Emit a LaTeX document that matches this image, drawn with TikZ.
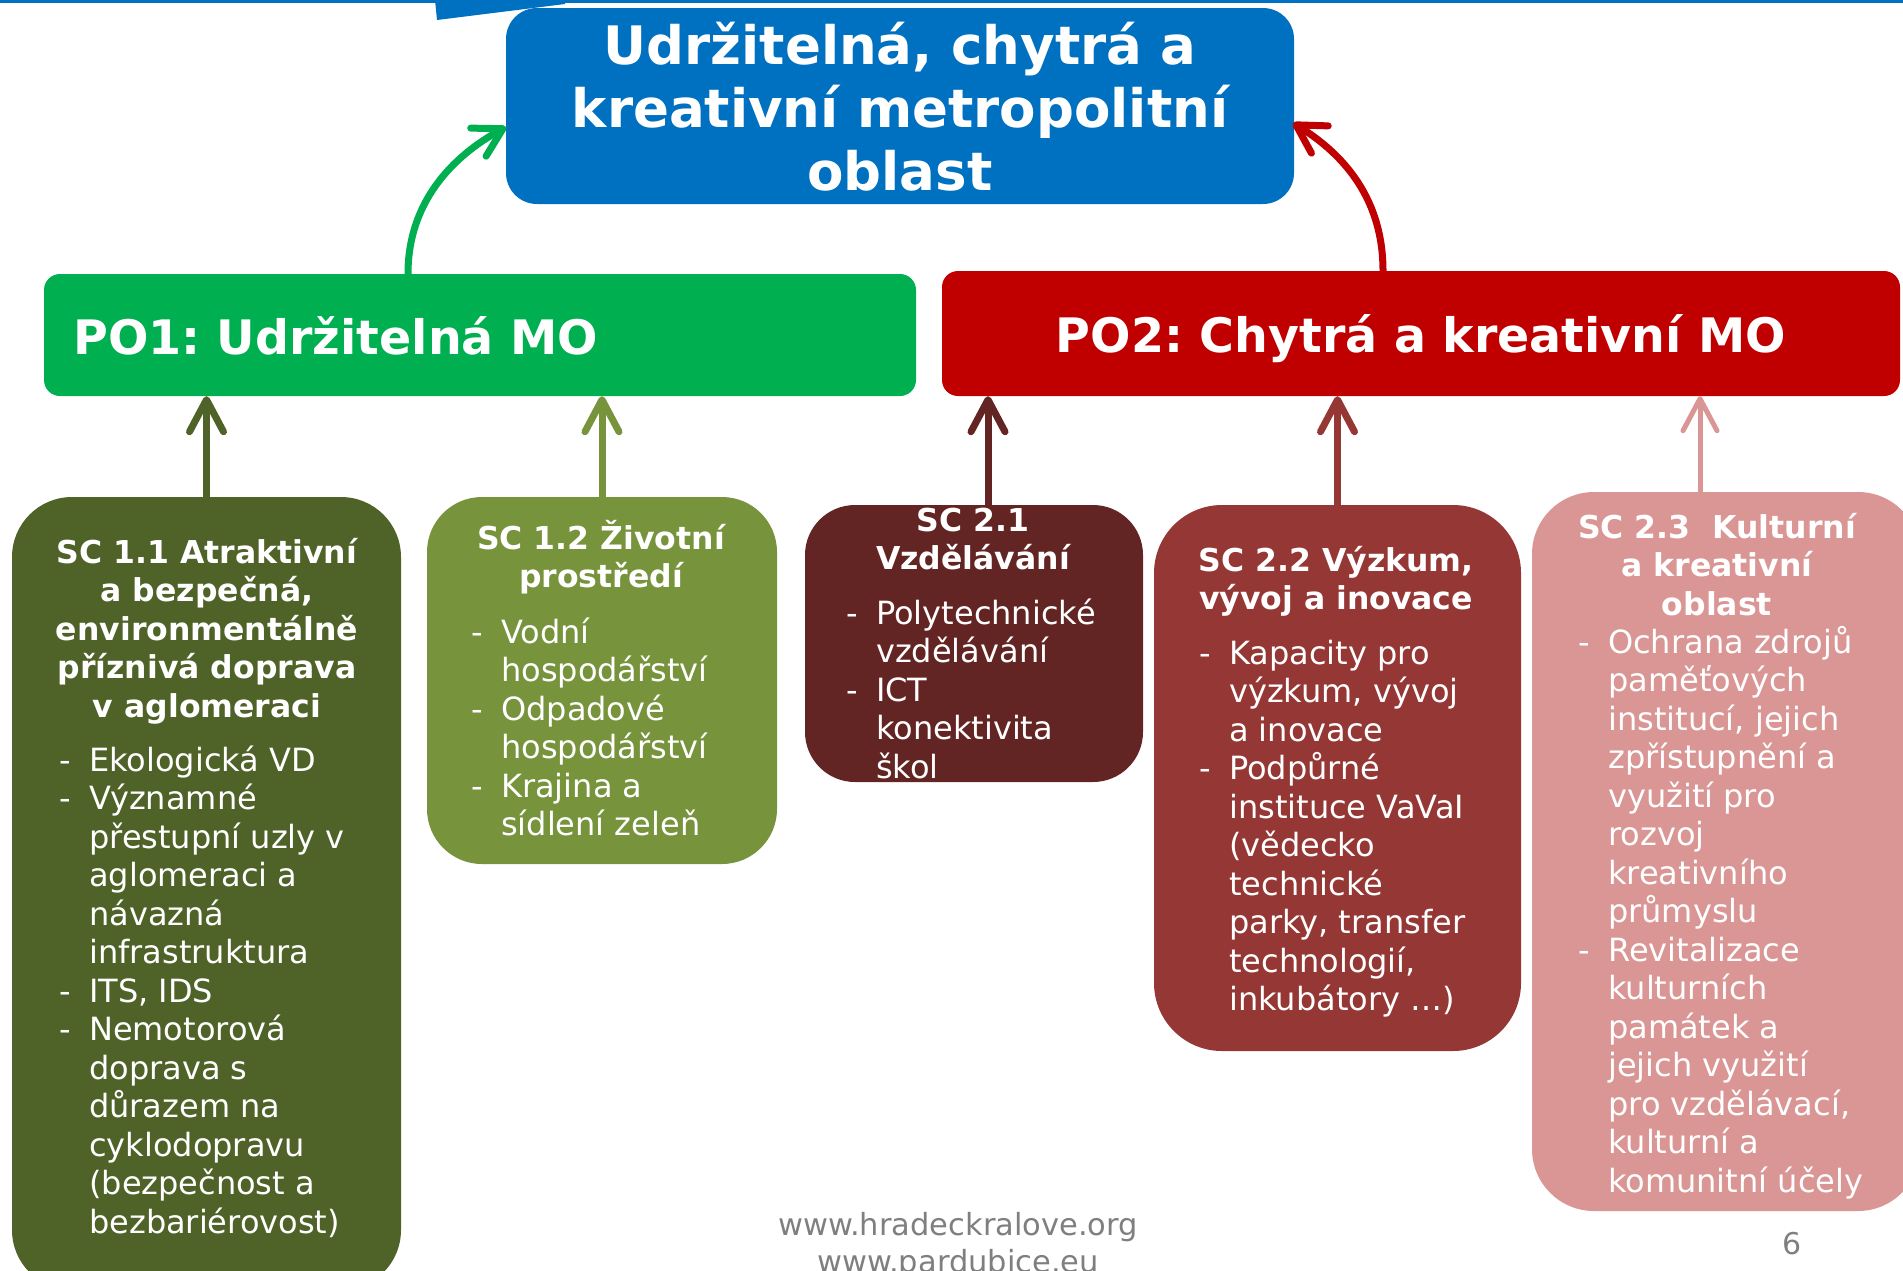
\documentclass[tikz,border=0pt]{standalone}
\usepackage{fontspec}
\setmainfont{DejaVu Sans}
\usetikzlibrary{arrows.meta}
\definecolor{tblue}{HTML}{0070C0}
\definecolor{pgreen}{HTML}{00B050}
\definecolor{pred}{HTML}{C00000}
\definecolor{cA}{HTML}{4F6228}
\definecolor{cB}{HTML}{77933C}
\definecolor{cC}{HTML}{632523}
\definecolor{cD}{HTML}{953735}
\definecolor{cE}{HTML}{D99694}
\definecolor{foot}{HTML}{7F7F7F}
\newcommand\dl{\makebox[30pt][l]{-}}
\newcommand\il{\hspace*{30pt}}
\frenchspacing
\begin{document}
\begin{tikzpicture}[x=1pt,y=-1pt,
  box/.style={inner sep=0pt, draw=none},
  sctitle/.style={inner sep=0pt, anchor=base, text=white, font=\bfseries\fontsize{31.5}{38.5}\selectfont},
  sclist/.style={inner sep=0pt, anchor=base west, text=white, font=\fontsize{32}{38.5}\selectfont},
  uparr/.style={line width=7pt, -{Straight Barb[length=32pt,width=34pt,round]}},
  curvearr/.style={line width=7pt, -{Straight Barb[length=28pt,width=32pt,round]}},
]
\useasboundingbox (0,0) rectangle (1903,1270);
\clip (0,0) rectangle (1903,1270);
% top decoration
\draw[tblue, line width=3pt] (0,1.5) -- (1903,1.5);
\fill[tblue] (435,0) -- (437,20) -- (565,4) -- (565,0) -- cycle;

% title
\node[box, fill=tblue, rounded corners=31pt, minimum width=788pt, minimum height=196pt] (title) at (900,106) {};
\node[anchor=base, inner sep=0pt, text=white, font=\bfseries\fontsize{53}{63}\selectfont] (titletext) at (900,64)
  {\begin{tabular}[t]{@{}c@{}}Udržitelná, chytrá a\\kreativní metropolitní\\oblast\end{tabular}};

% priority axes
\node[box, fill=pgreen, rounded corners=16pt, minimum width=872pt, minimum height=122pt] (po1) at (480,335) {};
\node[anchor=base west, inner sep=0pt, text=white, font=\bfseries\fontsize{47.5}{57}\selectfont] (po1text) at (73,354) {PO1: Udržitelná MO};
\node[box, fill=pred, rounded corners=16pt, minimum width=958pt, minimum height=125pt] (po2) at (1421,333.5) {};
\node[anchor=base, inner sep=0pt, text=white, font=\bfseries\fontsize{47.5}{57}\selectfont] (po2text) at (1421,352) {PO2: Chytrá a kreativní MO};

% specific objectives boxes
\node[box, fill=cA, rounded corners=60pt, minimum width=389pt, minimum height=793pt] (sc11) at (206.5,893.5) {};
\node[box, fill=cB, rounded corners=55pt, minimum width=350pt, minimum height=367pt] (sc12) at (602,680.5) {};
\node[box, fill=cC, rounded corners=50pt, minimum width=338pt, minimum height=277pt] (sc21) at (974,643.5) {};
\node[box, fill=cD, rounded corners=68pt, minimum width=367pt, minimum height=546pt] (sc22) at (1337.5,778) {};
\node[box, fill=cE, rounded corners=62pt, minimum width=388pt, minimum height=719pt] (sc23) at (1726,851.5) {};

% texts SC 1.1
\node[sctitle] (t11) at (207,563) {\begin{tabular}[t]{@{}c@{}}SC 1.1 Atraktivní\\a bezpečná,\\environmentálně\\příznivá doprava\\v aglomeraci\end{tabular}};
\node[sclist] (l11) at (59,771) {\begin{tabular}[t]{@{}l@{}}
\dl Ekologická VD\\
\dl Významné\\
\il přestupní uzly v\\
\il aglomeraci a\\
\il návazná\\
\il infrastruktura\\
\dl ITS, IDS\\
\dl Nemotorová\\
\il doprava s\\
\il důrazem na\\
\il cyklodopravu\\
\il (bezpečnost a\\
\il bezbariérovost)\end{tabular}};

% SC 1.2
\node[sctitle] (t12) at (601,549) {\begin{tabular}[t]{@{}c@{}}SC 1.2 Životní\\prostředí\end{tabular}};
\node[sclist] (l12) at (471,643) {\begin{tabular}[t]{@{}l@{}}
\dl Vodní\\
\il hospodářství\\
\dl Odpadové\\
\il hospodářství\\
\dl Krajina a\\
\il sídlení zeleň\end{tabular}};

% SC 2.1
\node[sctitle] (t21) at (973,531) {\begin{tabular}[t]{@{}c@{}}SC 2.1\\Vzdělávání\end{tabular}};
\node[sclist] (l21) at (846,624) {\begin{tabular}[t]{@{}l@{}}
\dl Polytechnické\\
\il vzdělávání\\
\dl ICT\\
\il konektivita\\
\il škol\end{tabular}};

% SC 2.2
\node[sctitle] (t22) at (1336,571) {\begin{tabular}[t]{@{}c@{}}SC 2.2 Výzkum,\\vývoj a inovace\end{tabular}};
\node[sclist] (l22) at (1199,664) {\begin{tabular}[t]{@{}l@{}}
\dl Kapacity pro\\
\il výzkum, vývoj\\
\il a inovace\\
\dl Podpůrné\\
\il instituce VaVaI\\
\il (vědecko\\
\il technické\\
\il parky, transfer\\
\il technologií,\\
\il inkubátory …)\end{tabular}};

% SC 2.3
\node[sctitle] (t23) at (1717,538) {\begin{tabular}[t]{@{}c@{}}SC 2.3\ \ Kulturní\\a kreativní\\oblast\end{tabular}};
\node[sclist] (l23) at (1578,653) {\begin{tabular}[t]{@{}l@{}}
\dl Ochrana zdrojů\\
\il paměťových\\
\il institucí, jejich\\
\il zpřístupnění a\\
\il využití pro\\
\il rozvoj\\
\il kreativního\\
\il průmyslu\\
\dl Revitalizace\\
\il kulturních\\
\il památek a\\
\il jejich využití\\
\il pro vzdělávací,\\
\il kulturní a\\
\il komunitní účely\end{tabular}};

% arrows
\coordinate (a21) at (988,0);
\coordinate (a23) at (1700,0);
\coordinate (g0) at (408,0);
\coordinate (gt) at (506,127);
\coordinate (r0) at (1383,0);
\coordinate (rt) at (1293,123);
\draw[uparr, cA] (sc11.north) -- (po1.south -| sc11.north);
\draw[uparr, cB] (sc12.north) -- (po1.south -| sc12.north);
\draw[uparr, cC] (sc21.north -| a21) -- (po2.south -| a21);
\draw[uparr, cD] (sc22.north) -- (po2.south -| sc22.north);
\draw[uparr, cE, line width=5pt] (sc23.north -| a23) -- (po2.south -| a23);
\draw[curvearr, pgreen] (po1.north -| g0) .. controls (408,200) and (455,155) .. (gt);
\draw[curvearr, pred] (po2.north -| r0) .. controls (1383,200) and (1345,155) .. (rt);

% footer
\node[anchor=base, inner sep=0pt, text=foot, font=\fontsize{30.5}{37}\selectfont] (web) at (958,1235)
  {\begin{tabular}[t]{@{}c@{}}www.hradeckralove.org\\www.pardubice.eu\end{tabular}};
\node[anchor=base, inner sep=0pt, text=foot, font=\fontsize{30}{36}\selectfont] (pg) at (1792,1254) {6};
\end{tikzpicture}
\end{document}
